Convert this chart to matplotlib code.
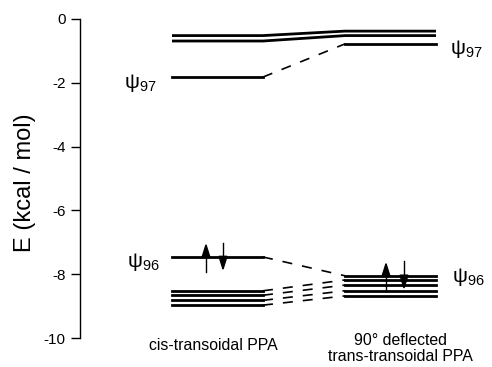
import numpy as np
import matplotlib
matplotlib.use("Agg")
import matplotlib.pyplot as plt

plt.rcParams['font.family'] = ['Liberation Sans', 'DejaVu Sans']
plt.rcParams['mathtext.fontset'] = 'custom'
plt.rcParams['mathtext.rm'] = 'Liberation Sans'

# orbital energies (kcal/mol)
cis_top = [-0.52, -0.69]          # upper levels, joined solid to trans side
trans_top = [-0.38, -0.52]
cis_psi97 = -1.82
trans_psi97 = -0.78
cis_psi96 = -7.46
trans_psi96 = -8.05
cis_low = [-8.52, -8.66, -8.82, -8.97]
trans_low = [-8.18, -8.34, -8.52, -8.68]

yticks = [0, -2, -4, -6, -8, -10]
col_labels = ["cis-transoidal PPA", "90\u00b0 deflected\ntrans-transoidal PPA"]

# layout (x in axes units, spine at 0)
L0, L1 = 92, 183
R0, R1 = 265, 356
cis_spins = [126, 143]
trans_spins = [306, 324]

fig = plt.figure(figsize=(4.92, 3.67), dpi=100)
ax = fig.add_axes([80/492, 29/367, 412/492, 319/367])
ax.set_xlim(0, 412)
ax.set_ylim(-10, 0)
for s in ['top', 'right', 'bottom']:
    ax.spines[s].set_visible(False)
ax.spines['left'].set_linewidth(1.0)
ax.set_xticks([])
ax.set_yticks(yticks)
ax.set_yticklabels([str(t) for t in yticks], fontsize=11)
ax.tick_params(axis='y', direction='out', length=6.5, width=1.0, pad=4)

lw = 2.0
dash = (0, (6, 6))
# upper levels, continuous
for a, b in zip(cis_top, trans_top):
    ax.plot([L0, L1, R0, R1], [a, a, b, b], color='black', lw=lw, solid_capstyle='butt')

# psi97
ax.plot([L0, L1], [cis_psi97, cis_psi97], color='black', lw=lw)
ax.plot([R0, R1], [trans_psi97, trans_psi97], color='black', lw=lw)
ax.plot([L1, R0], [cis_psi97, trans_psi97], color='black', lw=1.2, ls=dash)

# psi96
ax.plot([L0, L1], [cis_psi96, cis_psi96], color='black', lw=lw)
ax.plot([R0, R1], [trans_psi96, trans_psi96], color='black', lw=lw)
ax.plot([L1, R0], [cis_psi96, trans_psi96], color='black', lw=1.2, ls=dash)

# lower manifold
for a, b in zip(cis_low, trans_low):
    ax.plot([L0, L1], [a, a], color='black', lw=lw)
    ax.plot([R0, R1], [b, b], color='black', lw=lw)
    ax.plot([L1, R0], [a, b], color='black', lw=1.2, ls=dash)


def spin(x, e, up):
    hw, hh = 4.0, 0.38
    if up:
        ax.plot([x, x], [e - 0.47, e + 0.2], color='black', lw=1.0)
        ax.fill([x - hw, x + hw, x], [e - 0.02, e - 0.02, e + hh], color='black')
    else:
        ax.plot([x, x], [e + 0.45, e - 0.2], color='black', lw=1.0)
        ax.fill([x - hw, x + hw, x], [e + 0.02, e + 0.02, e - hh], color='black')


spin(cis_spins[0], cis_psi96, True)
spin(cis_spins[1], cis_psi96, False)
spin(trans_spins[0], trans_psi96, True)
spin(trans_spins[1], trans_psi96, False)

ax.text(44, cis_psi97 - 0.2, "\u03c8$_{97}$", fontsize=15, ha='left', va='center')
ax.text(47, cis_psi96 - 0.15, "\u03c8$_{96}$", fontsize=15, ha='left', va='center')
ax.text(370, trans_psi97 - 0.15, "\u03c8$_{97}$", fontsize=15, ha='left', va='center')
ax.text(372, trans_psi96 - 0.05, "\u03c8$_{96}$", fontsize=15, ha='left', va='center')

ax.text((L0 + L1) / 2 - 4, -10.22, col_labels[0], fontsize=11.4, ha='center', va='center')
ax.text((R0 + R1) / 2 + 10, -10.33, col_labels[1], fontsize=11.4, ha='center', va='center',
        linespacing=1.15)

fig.text(25/492, 1 - 183/367, "E (kcal / mol)", fontsize=17, rotation=90,
         ha='center', va='center')

fig.savefig("out.png", dpi=100)
